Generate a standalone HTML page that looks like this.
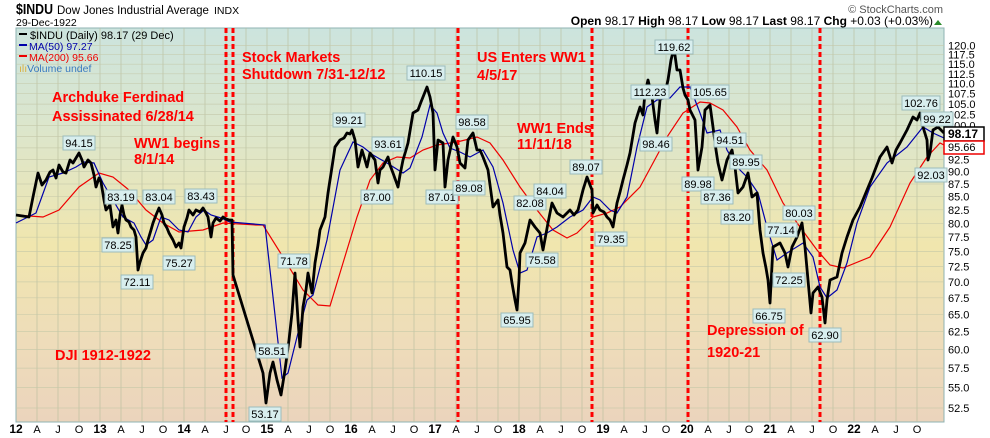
<!DOCTYPE html>
<html><head><meta charset="utf-8"><style>
html,body{margin:0;padding:0;background:#fff;}
svg{display:block;font-family:"Liberation Sans",sans-serif;}
.ax{font-size:11px;fill:#000;}
.yr{font-size:12px;font-weight:bold;fill:#000;}
.an{font-size:14.5px;font-weight:bold;fill:#f00;}
.lb rect{fill:#d8eeee;stroke:#9cbcbc;stroke-width:1;}
.lb text{font-size:11px;fill:#000;text-anchor:middle;}
</style></head><body>
<svg width="990" height="438" viewBox="0 0 990 438">
<defs>
<linearGradient id="bg" x1="0" y1="0" x2="0" y2="1">
<stop offset="0" stop-color="#cce4de"/>
<stop offset="0.3" stop-color="#dfe6c8"/>
<stop offset="0.55" stop-color="#f0e6ae"/>
<stop offset="0.8" stop-color="#eedcba"/>
<stop offset="1" stop-color="#ebd4bc"/>
</linearGradient>
</defs>
<text x="16" y="14" font-size="15" font-weight="bold" textLength="37" lengthAdjust="spacingAndGlyphs">$INDU</text>
<text x="57" y="14" font-size="11.5">Dow Jones Industrial Average</text>
<text x="214" y="14" font-size="10.5">INDX</text>
<text x="16" y="26" font-size="10.5">29-Dec-1922</text>
<text x="943" y="13" font-size="11" fill="#555" text-anchor="end">© StockCharts.com</text>
<text x="933" y="25" font-size="12" text-anchor="end"><tspan font-weight="bold">Open</tspan> 98.17  <tspan font-weight="bold">High</tspan> 98.17  <tspan font-weight="bold">Low</tspan> 98.17  <tspan font-weight="bold">Last</tspan> 98.17  <tspan font-weight="bold">Chg</tspan> +0.03 (+0.03%)</text>
<polygon points="934,25 942,25 938,20" fill="#2a8a2a"/>
<rect x="16" y="28" width="928" height="394" fill="url(#bg)" stroke="#8fb3b3"/>
<g stroke="#b9bf9f" stroke-width="0.8" opacity="0.8">
<line x1="37" y1="28" x2="37" y2="422"/><line x1="58" y1="28" x2="58" y2="422"/><line x1="79" y1="28" x2="79" y2="422"/><line x1="100" y1="28" x2="100" y2="422"/><line x1="121" y1="28" x2="121" y2="422"/><line x1="142" y1="28" x2="142" y2="422"/><line x1="163" y1="28" x2="163" y2="422"/><line x1="184" y1="28" x2="184" y2="422"/><line x1="205" y1="28" x2="205" y2="422"/><line x1="226" y1="28" x2="226" y2="422"/><line x1="246" y1="28" x2="246" y2="422"/><line x1="267" y1="28" x2="267" y2="422"/><line x1="288" y1="28" x2="288" y2="422"/><line x1="309" y1="28" x2="309" y2="422"/><line x1="330" y1="28" x2="330" y2="422"/><line x1="351" y1="28" x2="351" y2="422"/><line x1="372" y1="28" x2="372" y2="422"/><line x1="393" y1="28" x2="393" y2="422"/><line x1="414" y1="28" x2="414" y2="422"/><line x1="435" y1="28" x2="435" y2="422"/><line x1="456" y1="28" x2="456" y2="422"/><line x1="477" y1="28" x2="477" y2="422"/><line x1="498" y1="28" x2="498" y2="422"/><line x1="519" y1="28" x2="519" y2="422"/><line x1="540" y1="28" x2="540" y2="422"/><line x1="561" y1="28" x2="561" y2="422"/><line x1="582" y1="28" x2="582" y2="422"/><line x1="603" y1="28" x2="603" y2="422"/><line x1="624" y1="28" x2="624" y2="422"/><line x1="645" y1="28" x2="645" y2="422"/><line x1="666" y1="28" x2="666" y2="422"/><line x1="687" y1="28" x2="687" y2="422"/><line x1="708" y1="28" x2="708" y2="422"/><line x1="729" y1="28" x2="729" y2="422"/><line x1="749" y1="28" x2="749" y2="422"/><line x1="770" y1="28" x2="770" y2="422"/><line x1="791" y1="28" x2="791" y2="422"/><line x1="812" y1="28" x2="812" y2="422"/><line x1="833" y1="28" x2="833" y2="422"/><line x1="854" y1="28" x2="854" y2="422"/><line x1="875" y1="28" x2="875" y2="422"/><line x1="896" y1="28" x2="896" y2="422"/><line x1="917" y1="28" x2="917" y2="422"/>
</g>
<g stroke="#c4c8a8" stroke-width="0.7" opacity="0.8">
<line x1="16" x2="944" y1="45.5" y2="45.5"/><line x1="16" x2="944" y1="54.7" y2="54.7"/><line x1="16" x2="944" y1="64.2" y2="64.2"/><line x1="16" x2="944" y1="73.8" y2="73.8"/><line x1="16" x2="944" y1="83.7" y2="83.7"/><line x1="16" x2="944" y1="93.7" y2="93.7"/><line x1="16" x2="944" y1="104.1" y2="104.1"/><line x1="16" x2="944" y1="114.6" y2="114.6"/><line x1="16" x2="944" y1="125.4" y2="125.4"/><line x1="16" x2="944" y1="136.6" y2="136.6"/><line x1="16" x2="944" y1="147.9" y2="147.9"/><line x1="16" x2="944" y1="159.6" y2="159.6"/><line x1="16" x2="944" y1="171.6" y2="171.6"/><line x1="16" x2="944" y1="184" y2="184"/><line x1="16" x2="944" y1="196.7" y2="196.7"/><line x1="16" x2="944" y1="209.8" y2="209.8"/><line x1="16" x2="944" y1="223.3" y2="223.3"/><line x1="16" x2="944" y1="237.2" y2="237.2"/><line x1="16" x2="944" y1="251.6" y2="251.6"/><line x1="16" x2="944" y1="266.5" y2="266.5"/><line x1="16" x2="944" y1="281.9" y2="281.9"/><line x1="16" x2="944" y1="297.8" y2="297.8"/><line x1="16" x2="944" y1="314.3" y2="314.3"/><line x1="16" x2="944" y1="331.5" y2="331.5"/><line x1="16" x2="944" y1="349.4" y2="349.4"/><line x1="16" x2="944" y1="368.1" y2="368.1"/><line x1="16" x2="944" y1="387.6" y2="387.6"/><line x1="16" x2="944" y1="408" y2="408"/>
</g>
<g class="ax">
<text x="948" y="49.5">120.0</text><text x="948" y="58.7">117.5</text><text x="948" y="68.2">115.0</text><text x="948" y="77.8">112.5</text><text x="948" y="87.7">110.0</text><text x="948" y="97.7">107.5</text><text x="948" y="108.1">105.0</text><text x="948" y="118.6">102.5</text><text x="948" y="129.4">100.0</text><text x="948" y="163.6">92.5</text><text x="948" y="175.6">90.0</text><text x="948" y="188">87.5</text><text x="948" y="200.7">85.0</text><text x="948" y="213.8">82.5</text><text x="948" y="227.3">80.0</text><text x="948" y="241.2">77.5</text><text x="948" y="255.6">75.0</text><text x="948" y="270.5">72.5</text><text x="948" y="285.9">70.0</text><text x="948" y="301.8">67.5</text><text x="948" y="318.3">65.0</text><text x="948" y="335.5">62.5</text><text x="948" y="353.4">60.0</text><text x="948" y="372.1">57.5</text><text x="948" y="391.6">55.0</text><text x="948" y="412">52.5</text>
</g>
<g text-anchor="middle">
<text class="yr" x="16" y="433">12</text><text class="ax" x="37" y="433">A</text><text class="ax" x="58" y="433">J</text><text class="ax" x="79" y="433">O</text>
<text class="yr" x="100" y="433">13</text><text class="ax" x="121" y="433">A</text><text class="ax" x="142" y="433">J</text><text class="ax" x="163" y="433">O</text>
<text class="yr" x="184" y="433">14</text><text class="ax" x="205" y="433">A</text><text class="ax" x="226" y="433">J</text><text class="ax" x="246" y="433">O</text>
<text class="yr" x="267" y="433">15</text><text class="ax" x="288" y="433">A</text><text class="ax" x="309" y="433">J</text><text class="ax" x="330" y="433">O</text>
<text class="yr" x="351" y="433">16</text><text class="ax" x="372" y="433">A</text><text class="ax" x="393" y="433">J</text><text class="ax" x="414" y="433">O</text>
<text class="yr" x="435" y="433">17</text><text class="ax" x="456" y="433">A</text><text class="ax" x="477" y="433">J</text><text class="ax" x="498" y="433">O</text>
<text class="yr" x="519" y="433">18</text><text class="ax" x="540" y="433">A</text><text class="ax" x="561" y="433">J</text><text class="ax" x="582" y="433">O</text>
<text class="yr" x="603" y="433">19</text><text class="ax" x="624" y="433">A</text><text class="ax" x="645" y="433">J</text><text class="ax" x="666" y="433">O</text>
<text class="yr" x="687" y="433">20</text><text class="ax" x="708" y="433">A</text><text class="ax" x="729" y="433">J</text><text class="ax" x="749" y="433">O</text>
<text class="yr" x="770" y="433">21</text><text class="ax" x="791" y="433">A</text><text class="ax" x="812" y="433">J</text><text class="ax" x="833" y="433">O</text>
<text class="yr" x="854" y="433">22</text><text class="ax" x="875" y="433">A</text><text class="ax" x="896" y="433">J</text><text class="ax" x="917" y="433">O</text>
</g>
<g stroke="#f00" stroke-width="3" stroke-dasharray="5,3">
<line x1="226" y1="28" x2="226" y2="422"/><line x1="233" y1="28" x2="233" y2="422"/><line x1="458" y1="28" x2="458" y2="422"/><line x1="592" y1="28" x2="592" y2="422"/><line x1="688" y1="28" x2="688" y2="422"/><line x1="820" y1="28" x2="820" y2="422"/>
</g>
<polyline fill="none" stroke="#e00" stroke-width="1.2" points="16,215 43,217 59,210 79,187 99,173 113,177 129,190 146,210 163,223 179,232 203,230 223,223 256,225 263,225 283,257 303,290 318,305 330,306 343,263 357,217 370,180 383,163 397,157 410,158 423,150 437,145 457,142 477,137 490,143 503,160 520,187 537,210 553,230 567,238 577,233 593,217 607,213 620,207 640,187 653,163 667,137 683,113 700,102 710,103 723,110 737,127 750,150 767,170 783,203 800,227 817,250 830,265 843,268 870,257 890,227 910,183 927,157 940,143 944,145"/>
<polyline fill="none" stroke="#00a" stroke-width="1.2" points="16,223 36,213 49,177 63,173 76,167 84,162 94,163 103,183 113,200 123,217 134,223 141,237 146,245 153,240 161,217 169,220 179,230 188,232 196,217 204,210 211,215 221,218 230,222 265,225 282,378 288,373 298,333 307,300 313,295 327,240 340,170 353,142 363,147 373,155 387,163 403,173 410,168 422,137 430,105 437,113 443,133 450,148 460,152 470,157 483,150 493,167 503,203 513,250 520,273 527,270 537,237 547,233 557,227 570,217 583,210 593,197 600,200 610,210 617,213 627,197 637,147 647,107 657,100 670,98 680,87 690,87 700,113 707,133 720,130 727,150 737,167 747,177 758,193 767,227 777,260 787,253 803,243 813,257 820,287 827,298 837,290 847,263 857,223 870,187 887,163 907,147 923,127 933,133 944,138"/>
<polyline fill="none" stroke="#000" stroke-width="2.8" stroke-linejoin="round" points="16,215 29,217 33,197 38,173 42,185 46,180 50,172 53,170 56,178 59,165 63,172 66,173 70,160 73,163 76,158 79,153 82,160 84,167 88,160 91,163 94,175 96,187 99,178 101,182 104,200 106,210 110,205 113,227 116,220 118,233 120,215 122,205 124,215 126,220 129,222 131,227 134,230 136,237 138,270 140,262 143,253 146,248 148,240 151,230 153,223 156,215 159,208 162,215 164,223 167,228 169,233 173,240 176,247 179,243 181,248 184,227 187,218 189,210 193,215 196,210 200,212 203,208 206,213 208,217 211,237 213,223 216,218 220,221 223,217 226,219 229,220 232,220 233,275 263,373 266,403 270,373 273,362 277,380 281,395 285,370 289,340 292,313 295,273 298,320 300,347 303,307 306,290 308,273 312,293 315,263 318,245 320,230 325,217 328,193 332,167 335,147 340,140 344,138 347,133 350,134 352,130 355,140 358,167 362,150 365,160 367,167 370,153 375,160 378,183 380,170 383,167 388,157 390,165 393,173 398,187 400,175 403,160 406,150 408,143 411,125 413,113 418,110 421,102 423,97 427,87 430,97 433,113 435,170 438,140 443,143 445,187 448,160 453,137 457,147 460,163 465,168 468,140 473,133 477,150 480,150 483,157 488,170 493,207 498,200 500,215 503,233 507,267 510,270 512,283 515,300 517,310 519,280 520,253 525,243 530,220 535,227 540,233 543,250 548,223 552,203 557,213 563,217 570,210 574,215 578,210 583,190 587,177 590,185 592,190 593,213 597,205 600,210 604,212 607,217 610,220 613,227 617,203 620,192 623,180 627,165 630,153 635,123 640,107 643,115 645,93 648,80 652,97 655,120 657,133 660,100 665,93 668,80 671,60 674,48 677,70 680,70 683,88 685,95 688,100 690,110 695,120 698,170 702,147 705,110 710,105 713,127 716,150 718,163 722,180 725,168 727,160 732,150 735,167 738,193 743,187 748,173 752,197 757,193 760,230 763,253 766,268 768,280 770,303 773,247 780,243 785,253 788,267 792,247 797,237 802,223 805,247 808,280 811,313 813,293 818,287 822,297 825,323 827,300 830,280 837,277 842,253 847,237 853,220 860,207 867,190 872,178 875,170 880,157 887,147 892,163 896,150 900,143 907,130 913,117 917,120 920,113 923,127 927,140 928,160 930,153 933,130 938,127 944,133"/>
<g class="lb">
<rect x="63" y="136" width="32" height="14"/><text x="79" y="147">94.15</text>
<rect x="105" y="190" width="32" height="14"/><text x="121" y="201">83.19</text>
<rect x="102" y="238" width="32" height="14"/><text x="118" y="249">78.25</text>
<rect x="121" y="275" width="32" height="14"/><text x="137" y="286">72.11</text>
<rect x="143" y="190" width="32" height="14"/><text x="159" y="201">83.04</text>
<rect x="163" y="256" width="32" height="14"/><text x="179" y="267">75.27</text>
<rect x="185" y="189" width="32" height="14"/><text x="201" y="200">83.43</text>
<rect x="256" y="344" width="32" height="14"/><text x="272" y="355">58.51</text>
<rect x="249" y="407" width="32" height="14"/><text x="265" y="418">53.17</text>
<rect x="278" y="254" width="32" height="14"/><text x="294" y="265">71.78</text>
<rect x="333" y="113" width="32" height="14"/><text x="349" y="124">99.21</text>
<rect x="372" y="137" width="32" height="14"/><text x="388" y="148">93.61</text>
<rect x="361" y="190" width="32" height="14"/><text x="377" y="201">87.00</text>
<rect x="407" y="66" width="38" height="14"/><text x="426" y="77">110.15</text>
<rect x="426" y="190" width="32" height="14"/><text x="442" y="201">87.01</text>
<rect x="453" y="181" width="32" height="14"/><text x="469" y="192">89.08</text>
<rect x="456" y="115" width="32" height="14"/><text x="472" y="126">98.58</text>
<rect x="514" y="196" width="32" height="14"/><text x="530" y="207">82.08</text>
<rect x="534" y="184" width="32" height="14"/><text x="550" y="195">84.04</text>
<rect x="526" y="253" width="32" height="14"/><text x="542" y="264">75.58</text>
<rect x="501" y="313" width="32" height="14"/><text x="517" y="324">65.95</text>
<rect x="570" y="160" width="32" height="14"/><text x="586" y="171">89.07</text>
<rect x="595" y="232" width="32" height="14"/><text x="611" y="243">79.35</text>
<rect x="640" y="137" width="32" height="14"/><text x="656" y="148">98.46</text>
<rect x="631" y="85" width="38" height="14"/><text x="650" y="96">112.23</text>
<rect x="655" y="40" width="38" height="14"/><text x="674" y="51">119.62</text>
<rect x="691" y="85" width="38" height="14"/><text x="710" y="96">105.65</text>
<rect x="682" y="177" width="32" height="14"/><text x="698" y="188">89.98</text>
<rect x="701" y="190" width="32" height="14"/><text x="717" y="201">87.36</text>
<rect x="714" y="133" width="32" height="14"/><text x="730" y="144">94.51</text>
<rect x="730" y="155" width="32" height="14"/><text x="746" y="166">89.95</text>
<rect x="721" y="210" width="32" height="14"/><text x="737" y="221">83.20</text>
<rect x="783" y="206" width="32" height="14"/><text x="799" y="217">80.03</text>
<rect x="765" y="223" width="32" height="14"/><text x="781" y="234">77.14</text>
<rect x="773" y="273" width="32" height="14"/><text x="789" y="284">72.25</text>
<rect x="753" y="309" width="32" height="14"/><text x="769" y="320">66.75</text>
<rect x="809" y="328" width="32" height="14"/><text x="825" y="339">62.90</text>
<rect x="902" y="96" width="38" height="14"/><text x="921" y="107">102.76</text>
<rect x="921" y="112" width="32" height="14"/><text x="937" y="123">99.22</text>
<rect x="915" y="168" width="32" height="14"/><text x="931" y="179">92.03</text>
</g>
<rect x="944" y="127" width="40" height="14" fill="#fff" stroke="#000" stroke-width="1.5"/>
<text x="948" y="138" font-size="12" font-weight="bold">98.17</text>
<rect x="944" y="141" width="40" height="13" fill="#fff" stroke="#e00" stroke-width="1.5"/>
<text x="948" y="151" font-size="11">95.66</text>
<g font-size="11">
<rect x="19" y="33" width="8" height="2" fill="#000"/><text x="30" y="39">$INDU (Daily) 98.17 (29 Dec)</text>
<rect x="19" y="44" width="8" height="2" fill="#00a"/><text x="29" y="50" fill="#00a" font-size="10.5">MA(50) 97.27</text>
<rect x="19" y="55" width="8" height="2" fill="#e00"/><text x="29" y="61" fill="#e00" font-size="10.5">MA(200) 95.66</text>
<text x="19" y="72" fill="#3a7ac0" font-size="10.5"><tspan fill="#d8b040">ılı</tspan>Volume undef</text>
</g>
<g class="an">
<text x="242" y="62">Stock Markets</text>
<text x="242" y="79">Shutdown 7/31-12/12</text>
<text x="52" y="102">Archduke Ferdinad</text>
<text x="52" y="121">Assissinated 6/28/14</text>
<text x="134" y="148">WW1 begins</text>
<text x="134" y="164">8/1/14</text>
<text x="477" y="62">US Enters WW1</text>
<text x="477" y="80">4/5/17</text>
<text x="517" y="133">WW1 Ends</text>
<text x="517" y="149">11/11/18</text>
<text x="707" y="335">Depression of</text>
<text x="707" y="357">1920-21</text>
<text x="55" y="360">DJI 1912-1922</text>
</g>
</svg>
</body></html>
